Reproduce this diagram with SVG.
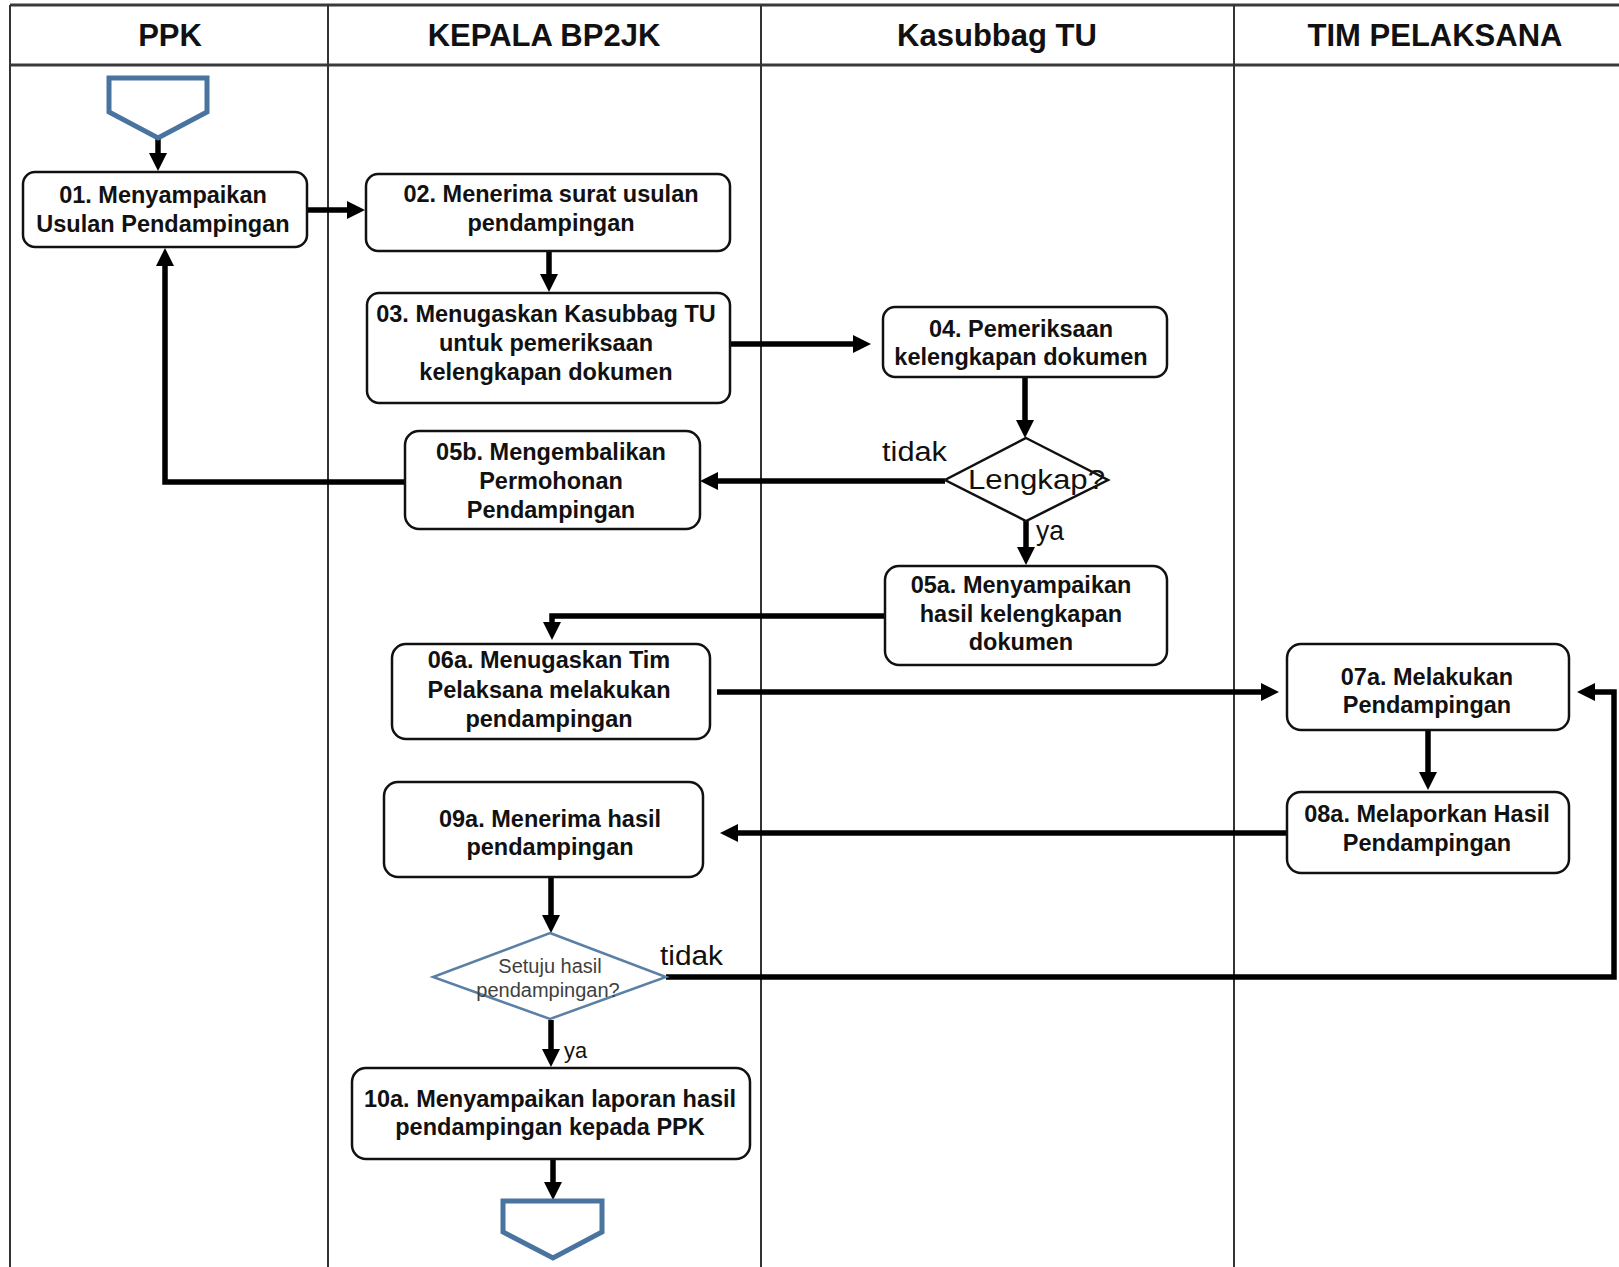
<svg xmlns="http://www.w3.org/2000/svg" width="1619" height="1267" viewBox="0 0 1619 1267">
<style>
.lane{stroke:#333;stroke-width:2;fill:none}
.hline{stroke:#3a3a3a;stroke-width:3;fill:none}
.hdr{font-family:"Liberation Sans",Arial,sans-serif;font-weight:bold;font-size:31px;fill:#111;text-anchor:middle}
.box{fill:#fff;stroke:#111;stroke-width:2.5}
.t{font-family:"Liberation Sans",Arial,sans-serif;font-weight:bold;font-size:23.5px;fill:#111;text-anchor:middle}
.lbl{font-family:"Liberation Sans",Arial,sans-serif;font-size:27px;fill:#111}
.dtext{font-family:"Liberation Sans",Arial,sans-serif;font-size:20px;fill:#404040;text-anchor:middle}
.conn{fill:none;stroke:#000;stroke-width:5.5;stroke-linejoin:miter}
.off{fill:#fff;stroke:#4A74A0;stroke-width:5}
</style>
<defs>
<marker id="ah" markerUnits="userSpaceOnUse" markerWidth="19" markerHeight="19" refX="4" refY="9" orient="auto" viewBox="0 0 19 19">
<path d="M0,0 L18,9 L0,18 z" fill="#000"/>
</marker>
</defs>
<rect x="0" y="0" width="1619" height="1267" fill="#fff"/>
<g id="lanes">
<line class="hline" x1="10" y1="5" x2="1619" y2="5"/>
<line class="hline" x1="10" y1="65" x2="1619" y2="65"/>
<line class="lane" x1="10" y1="5" x2="10" y2="1267"/>
<line class="lane" x1="328" y1="5" x2="328" y2="1267"/>
<line class="lane" x1="761" y1="5" x2="761" y2="1267"/>
<line class="lane" x1="1234" y1="5" x2="1234" y2="1267"/>
<text class="hdr" x="170" y="46">PPK</text>
<text class="hdr" x="544" y="46">KEPALA BP2JK</text>
<text class="hdr" x="997" y="46">Kasubbag TU</text>
<text class="hdr" x="1435" y="46">TIM PELAKSANA</text>
</g>
<g id="connectors">
<path class="conn" d="M158,139 V157" marker-end="url(#ah)"/>
<path class="conn" d="M307,210 H351" marker-end="url(#ah)"/>
<path class="conn" d="M549,251 V278" marker-end="url(#ah)"/>
<path class="conn" d="M730,344 H857" marker-end="url(#ah)"/>
<path class="conn" d="M1025,377 V424" marker-end="url(#ah)"/>
<path class="conn" d="M945,481 H714" marker-end="url(#ah)"/>
<path class="conn" d="M1026,521 V551" marker-end="url(#ah)"/>
<path class="conn" d="M405,482 H165 V262" marker-end="url(#ah)"/>
<path class="conn" d="M885,616 H552 V626" marker-end="url(#ah)"/>
<path class="conn" d="M717,692 H1265" marker-end="url(#ah)"/>
<path class="conn" d="M1428,730 V776" marker-end="url(#ah)"/>
<path class="conn" d="M1287,833 H734" marker-end="url(#ah)"/>
<path class="conn" d="M551,877 V919" marker-end="url(#ah)"/>
<path class="conn" d="M666,977 H1614 V692 H1591" marker-end="url(#ah)"/>
<path class="conn" d="M551,1020 V1053" marker-end="url(#ah)"/>
<path class="conn" d="M553,1159 V1186" marker-end="url(#ah)"/>
<text class="lbl" x="882" y="461" textLength="65" lengthAdjust="spacingAndGlyphs">tidak</text>
<text class="lbl" x="1036" y="540" textLength="28" lengthAdjust="spacingAndGlyphs">ya</text>
<text class="lbl" x="660" y="965" textLength="63" lengthAdjust="spacingAndGlyphs">tidak</text>
<text class="lbl" x="564" y="1058" style="font-size:22px" textLength="23" lengthAdjust="spacingAndGlyphs">ya</text>
</g>
<g id="start">
<polygon class="off" points="109,78 207,78 207,112 158,138 109,112"/>
</g>
<g id="n01">
<rect class="box" x="23" y="172" width="284" height="75" rx="12"/>
<text class="t" x="163" y="203">01. Menyampaikan</text>
<text class="t" x="163" y="232">Usulan Pendampingan</text>
</g>
<g id="n02">
<rect class="box" x="366" y="174" width="364" height="77" rx="12"/>
<text class="t" x="551" y="202">02. Menerima surat usulan</text>
<text class="t" x="551" y="231">pendampingan</text>
</g>
<g id="n03">
<rect class="box" x="367" y="293" width="363" height="110" rx="12"/>
<text class="t" x="546" y="322">03. Menugaskan Kasubbag TU</text>
<text class="t" x="546" y="351">untuk pemeriksaan</text>
<text class="t" x="546" y="380">kelengkapan dokumen</text>
</g>
<g id="n04">
<rect class="box" x="883" y="307" width="284" height="70" rx="12"/>
<text class="t" x="1021" y="337">04. Pemeriksaan</text>
<text class="t" x="1021" y="365">kelengkapan dokumen</text>
</g>
<g id="d1">
<polygon points="1026,438 1108,480 1026,521 945,480" fill="#fff" stroke="#111" stroke-width="2.5"/>
<text class="lbl" x="968" y="489" textLength="137" lengthAdjust="spacingAndGlyphs">Lengkap?</text>
</g>
<g id="n05b">
<rect class="box" x="405" y="431" width="295" height="98" rx="14"/>
<text class="t" x="551" y="460">05b. Mengembalikan</text>
<text class="t" x="551" y="489">Permohonan</text>
<text class="t" x="551" y="518">Pendampingan</text>
</g>
<g id="n05a">
<rect class="box" x="885" y="566" width="282" height="99" rx="14"/>
<text class="t" x="1021" y="593">05a. Menyampaikan</text>
<text class="t" x="1021" y="622">hasil kelengkapan</text>
<text class="t" x="1021" y="650">dokumen</text>
</g>
<g id="n06a">
<rect class="box" x="392" y="644" width="318" height="95" rx="14"/>
<text class="t" x="549" y="668">06a. Menugaskan Tim</text>
<text class="t" x="549" y="698">Pelaksana melakukan</text>
<text class="t" x="549" y="727">pendampingan</text>
</g>
<g id="n07a">
<rect class="box" x="1287" y="644" width="282" height="86" rx="14"/>
<text class="t" x="1427" y="685">07a. Melakukan</text>
<text class="t" x="1427" y="713">Pendampingan</text>
</g>
<g id="n08a">
<rect class="box" x="1287" y="792" width="282" height="81" rx="14"/>
<text class="t" x="1427" y="822">08a. Melaporkan Hasil</text>
<text class="t" x="1427" y="851">Pendampingan</text>
</g>
<g id="n09a">
<rect class="box" x="384" y="782" width="319" height="95" rx="14"/>
<text class="t" x="550" y="827">09a. Menerima hasil</text>
<text class="t" x="550" y="855">pendampingan</text>
</g>
<g id="d2">
<polygon points="550,933 666,977 550,1019 433,977" fill="#fff" stroke="#5B80A6" stroke-width="2.5"/>
<text class="dtext" x="550" y="973">Setuju hasil</text>
<text class="dtext" x="548" y="997">pendampingan?</text>
</g>
<g id="n10a">
<rect class="box" x="352" y="1068" width="398" height="91" rx="14"/>
<text class="t" x="550" y="1107">10a. Menyampaikan laporan hasil</text>
<text class="t" x="550" y="1135">pendampingan kepada PPK</text>
</g>
<g id="end">
<polygon class="off" points="503,1201 602,1201 602,1232 553,1258 503,1232"/>
</g>
</svg>
